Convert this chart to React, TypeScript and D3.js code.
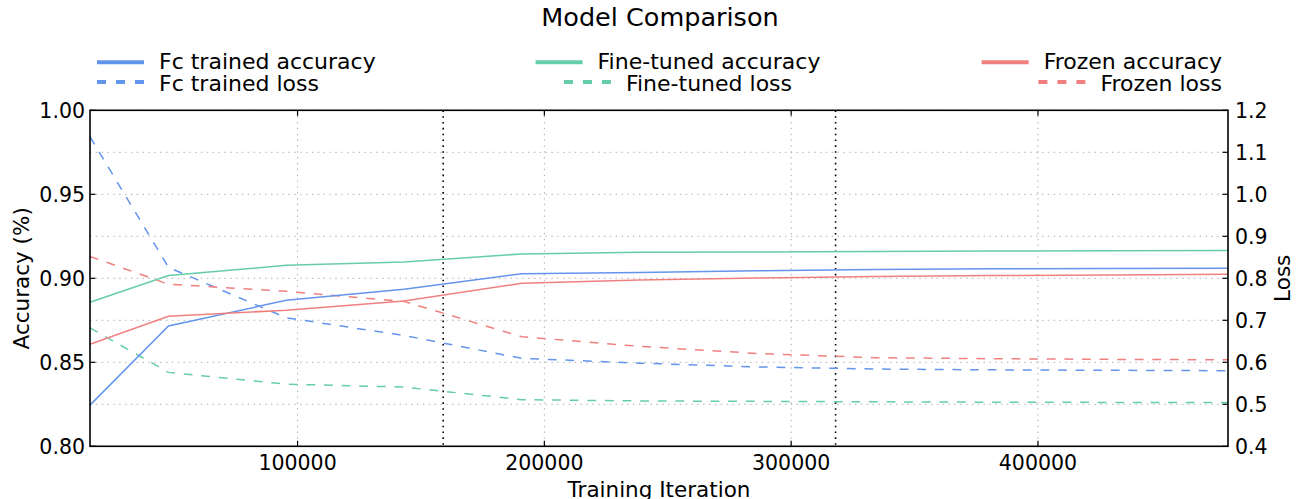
import React, { useEffect, useRef } from "react";
import * as d3 from "d3";

// Evaluation points (training iterations)
const iterations = [15900, 47700, 95400, 143100, 190800, 238500, 286200, 333900, 381600, 429300, 477000];

// Accuracy per model
const fcTrainedAccuracy = [0.8245, 0.8716, 0.8869, 0.8935, 0.9027, 0.9035, 0.9045, 0.9053, 0.9057, 0.9059, 0.906];
const fineTunedAccuracy = [0.8857, 0.9016, 0.9077, 0.9097, 0.9145, 0.9155, 0.9157, 0.916, 0.9162, 0.9164, 0.9166];
const frozenAccuracy = [0.8607, 0.8774, 0.881, 0.8865, 0.897, 0.899, 0.9002, 0.901, 0.9016, 0.902, 0.9024];

// Loss per model
const fcTrainedLoss = [1.137, 0.826, 0.706, 0.664, 0.6095, 0.598, 0.589, 0.584, 0.582, 0.581, 0.58];
const fineTunedLoss = [0.682, 0.576, 0.548, 0.541, 0.511, 0.508, 0.507, 0.506, 0.505, 0.5045, 0.504];
const frozenLoss = [0.852, 0.786, 0.769, 0.745, 0.661, 0.638, 0.621, 0.611, 0.6085, 0.607, 0.606];

// Learning-rate schedule boundaries
const phaseBoundaries = [159000, 318000];

// Axis ticks
const xTicks = [100000, 200000, 300000, 400000];
const accuracyTicks = [0.8, 0.85, 0.9, 0.95, 1.0];
const lossTicks = [0.4, 0.5, 0.6, 0.7, 0.8, 0.9, 1.0, 1.1, 1.2];

const models = ["Fc trained", "Fine-tuned", "Frozen"];
const colors = ["#6495ED", "#66CDAA", "#F08080"];
const accuracySeries = [fcTrainedAccuracy, fineTunedAccuracy, frozenAccuracy];
const lossSeries = [fcTrainedLoss, fineTunedLoss, frozenLoss];

const W = 1302;
const H = 499;
const FONT = "'DejaVu Sans', sans-serif";

export default function App() {
  const ref = useRef<SVGSVGElement | null>(null);

  useEffect(() => {
    const svg = d3.select(ref.current);
    svg.selectAll("*").remove();

    const left = 90, right = 1228, top = 110.3, bottom = 446.3;

    const x = d3.scaleLinear().domain([iterations[0], iterations[iterations.length - 1]]).range([left, right]);
    const yAcc = d3.scaleLinear().domain([0.8, 1.0]).range([bottom, top]);
    const yLoss = d3.scaleLinear().domain([0.4, 1.2]).range([bottom, top]);

    const g = svg.append("g");

    // grid
    const grid = g.append("g").attr("stroke", "#999").attr("stroke-width", 0.8).attr("stroke-dasharray", "1.46,4.38").attr("fill", "none");
    lossTicks.forEach((t) => {
      grid.append("line").attr("x1", left).attr("x2", right).attr("y1", yLoss(t)).attr("y2", yLoss(t));
    });
    xTicks.forEach((t) => {
      grid.append("line").attr("x1", x(t)).attr("x2", x(t)).attr("y1", top).attr("y2", bottom);
    });

    // schedule boundaries
    phaseBoundaries.forEach((b) => {
      g.append("line")
        .attr("x1", x(b)).attr("x2", x(b)).attr("y1", top).attr("y2", bottom)
        .attr("stroke", "#000").attr("stroke-width", 1.6).attr("stroke-dasharray", "1.6,4.24");
    });

    // series
    const accLine = (vals: number[]) =>
      d3.line<number>().x((_, i) => x(iterations[i])).y((d) => yAcc(d))(vals);
    const lossLine = (vals: number[]) =>
      d3.line<number>().x((_, i) => x(iterations[i])).y((d) => yLoss(d))(vals);

    lossSeries.forEach((s, i) => {
      g.append("path").attr("d", lossLine(s)!).attr("fill", "none").attr("stroke", colors[i])
        .attr("stroke-width", 1.5).attr("stroke-dasharray", "8.8,8.8");
    });
    accuracySeries.forEach((s, i) => {
      g.append("path").attr("d", accLine(s)!).attr("fill", "none").attr("stroke", colors[i])
        .attr("stroke-width", 1.5);
    });

    // frame
    g.append("rect").attr("x", left).attr("y", top).attr("width", right - left).attr("height", bottom - top)
      .attr("fill", "none").attr("stroke", "#000").attr("stroke-width", 1.6);

    const tickLen = 5.5;
    const ticks = g.append("g").attr("stroke", "#000").attr("stroke-width", 1.2);
    xTicks.forEach((t) => {
      ticks.append("line").attr("x1", x(t)).attr("x2", x(t)).attr("y1", bottom).attr("y2", bottom - tickLen);
      ticks.append("line").attr("x1", x(t)).attr("x2", x(t)).attr("y1", top).attr("y2", top + tickLen);
    });
    accuracyTicks.forEach((t) => {
      ticks.append("line").attr("x1", left).attr("x2", left + tickLen).attr("y1", yAcc(t)).attr("y2", yAcc(t));
    });
    lossTicks.forEach((t) => {
      ticks.append("line").attr("x1", right).attr("x2", right - tickLen).attr("y1", yLoss(t)).attr("y2", yLoss(t));
    });

    const text = g.append("g").attr("font-family", FONT).attr("fill", "#000");
    xTicks.forEach((t) => {
      text.append("text").attr("x", x(t)).attr("y", 470).attr("text-anchor", "middle")
        .attr("font-size", 20.5).text(String(t));
    });
    accuracyTicks.forEach((t) => {
      text.append("text").attr("x", left - 5).attr("y", yAcc(t)).attr("dy", "0.36em").attr("text-anchor", "end")
        .attr("font-size", 20.5).text(t.toFixed(2));
    });
    lossTicks.forEach((t) => {
      text.append("text").attr("x", right + 7).attr("y", yLoss(t)).attr("dy", "0.36em").attr("text-anchor", "start")
        .attr("font-size", 20.5).text(t.toFixed(1));
    });

    text.append("text").attr("x", (left + right) / 2).attr("y", 497).attr("text-anchor", "middle")
      .attr("font-size", 21.5).text("Training Iteration");
    text.append("text").attr("transform", `translate(29,${(top + bottom) / 2}) rotate(-90)`)
      .attr("text-anchor", "middle").attr("font-size", 21.5).text("Accuracy (%)");
    text.append("text").attr("transform", `translate(1290,${(top + bottom) / 2}) rotate(-90)`)
      .attr("text-anchor", "middle").attr("font-size", 21.5).text("Loss");

    text.append("text").attr("x", (left + right) / 2 + 1).attr("y", 26).attr("text-anchor", "middle")
      .attr("font-size", 25.5).text("Model Comparison");

    // legend: three columns (left-, centre- and right-aligned), accuracy and loss rows
    const handleLen = 47, gap = 15;
    const rows = [
      { suffix: "accuracy", baseline: 69, lineY: 62.3, dash: null as string | null },
      { suffix: "loss", baseline: 91, lineY: 82, dash: "9,10" },
    ];
    const legend = g.append("g");
    models.forEach((m, ci) => {
      rows.forEach((r) => {
        const entry = legend.append("g");
        const label = entry.append("text").attr("font-family", FONT).attr("font-size", 22)
          .attr("y", r.baseline).text(`${m} ${r.suffix}`);
        const tw = (label.node() as SVGTextElement).getComputedTextLength();
        const width = handleLen + gap + tw;
        let start: number;
        if (ci === 0) start = 97;
        else if (ci === 1) start = 678 - width / 2;
        else start = 1222 - width;
        label.attr("x", start + handleLen + gap);
        const h = entry.append("line").attr("x1", start).attr("x2", start + handleLen)
          .attr("y1", r.lineY).attr("y2", r.lineY).attr("stroke", colors[ci]).attr("stroke-width", 4);
        if (r.dash) h.attr("stroke-dasharray", r.dash);
      });
    });
  }, []);

  return (
    <svg
      ref={ref}
      width={W}
      height={H}
      style={{ position: "absolute", left: 0, top: 0, background: "#fff" }}
    />
  );
}
